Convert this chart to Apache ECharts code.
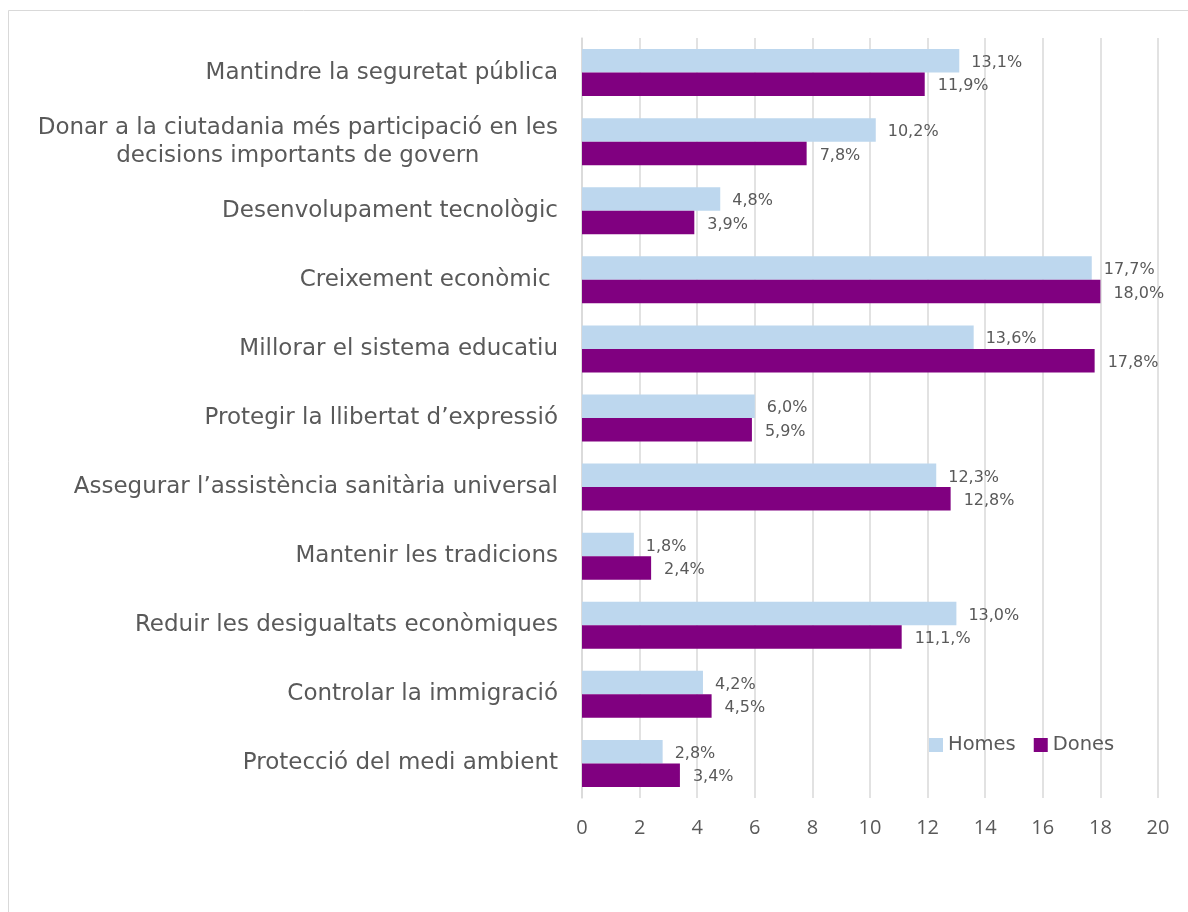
<!DOCTYPE html>
<html>
<head>
<meta charset="utf-8">
<script src="https://cdn.jsdelivr.net/npm/echarts@6/dist/echarts.min.js"></script>
<style>html,body{margin:0;padding:0;background:#fff;}#c{width:1188px;height:912px;}</style>
</head>
<body>
<div id="c"></div>
<script>
const categories = [
  'Mantindre la seguretat pública',
  'Donar a la ciutadania més participació en les\ndecisions importants de govern',
  'Desenvolupament tecnològic',
  'Creixement econòmic ',
  'Millorar el sistema educatiu',
  'Protegir la llibertat d’expressió',
  'Assegurar l’assistència sanitària universal',
  'Mantenir les tradicions',
  'Reduir les desigualtats econòmiques',
  'Controlar la immigració',
  'Protecció del medi ambient'
];
const homes = [13.1, 10.2, 4.8, 17.7, 13.6, 6.0, 12.3, 1.8, 13.0, 4.2, 2.8];
const dones = [11.9, 7.8, 3.9, 18.0, 17.8, 5.9, 12.8, 2.4, 11.1, 4.5, 3.4];
const homesLabels = ['13,1%', '10,2%', '4,8%', '17,7%', '13,6%', '6,0%', '12,3%', '1,8%', '13,0%', '4,2%', '2,8%'];
const donesLabels = ['11,9%', '7,8%', '3,9%', '18,0%', '17,8%', '5,9%', '12,8%', '2,4%', '11,1,%', '4,5%', '3,4%'];
const xTicks = [0, 2, 4, 6, 8, 10, 12, 14, 16, 18, 20];

const chart = echarts.init(document.getElementById('c'));
const textColor = '#595959';
const gridColor = '#d9d9d9';
chart.setOption({
  animation: false,
  backgroundColor: '#fff',
  graphic: [{
    type: 'rect',
    shape: { x: 8.5, y: 10.5, width: 1300, height: 1000 },
    style: { fill: 'none', stroke: gridColor, lineWidth: 1 },
    silent: true
  }],
  legend: {
    data: ['Homes', 'Dones'],
    left: 924, top: 730,
    itemWidth: 14, itemHeight: 14, itemGap: 18,
    icon: 'rect',
    textStyle: { color: textColor, fontSize: 19.5, fontFamily: 'DejaVu Sans', padding: [0, 0, 0, 0] }
  },
  grid: { left: 582, right: 30, top: 38, bottom: 114, containLabel: false },
  xAxis: {
    type: 'value', min: 0, max: 20, interval: 2,
    axisLine: { show: false },
    axisTick: { show: false },
    splitLine: { show: true, lineStyle: { color: gridColor, width: 1.5 } },
    axisLabel: {
      color: textColor, fontSize: 20, fontFamily: 'Open Sans', margin: 20,
      formatter: function (v) { return xTicks.indexOf(v) >= 0 ? String(v) : ''; }
    }
  },
  yAxis: {
    type: 'category', inverse: true, data: categories,
    axisLine: { show: true, lineStyle: { color: gridColor, width: 1.5 } },
    axisTick: { show: false },
    axisLabel: {
      margin: 24,
      formatter: function (v) {
        return v.split('\n').map(function (s) { return '{c|' + s + '}'; }).join('\n');
      },
      rich: {
        c: { align: 'center', color: textColor, fontSize: 23, fontFamily: 'DejaVu Sans', lineHeight: 28 }
      }
    }
  },
  series: [
    {
      name: 'Homes', type: 'bar', data: homes,
      barGap: '0%', barCategoryGap: '32%',
      itemStyle: { color: '#BDD7EE' },
      label: {
        show: true, position: 'right', distance: 12, offset: [0, 2],
        color: textColor, fontSize: 16, fontFamily: 'DejaVu Sans',
        formatter: function (p) { return homesLabels[p.dataIndex]; }
      }
    },
    {
      name: 'Dones', type: 'bar', data: dones,
      barGap: '0%', barCategoryGap: '32%',
      itemStyle: { color: '#800080' },
      label: {
        show: true, position: 'right', distance: 13, offset: [0, 2],
        color: textColor, fontSize: 16, fontFamily: 'DejaVu Sans',
        formatter: function (p) { return donesLabels[p.dataIndex]; }
      }
    }
  ]
});
</script>
</body>
</html>
